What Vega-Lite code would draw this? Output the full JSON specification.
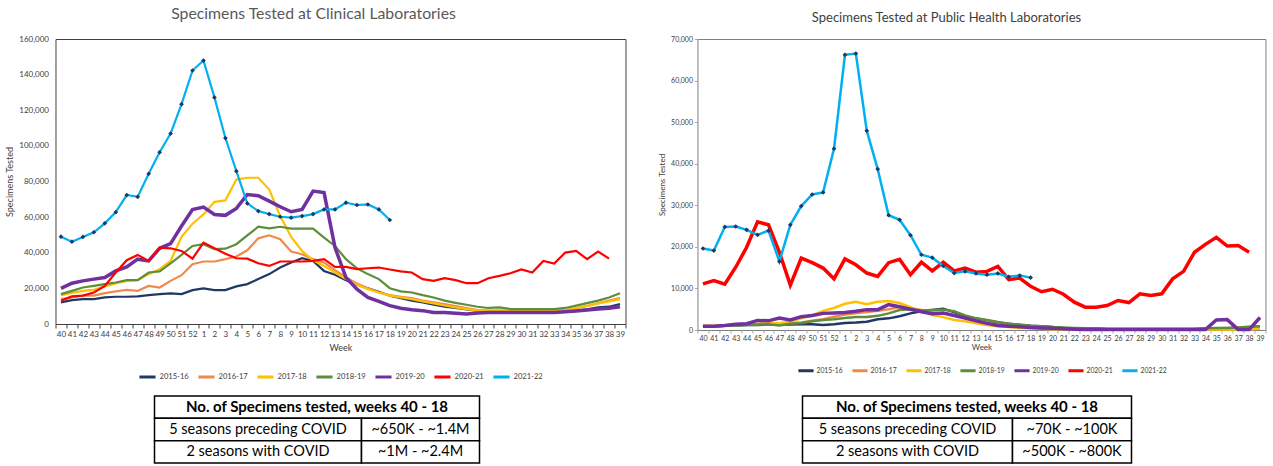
{
"$schema":"https://vega.github.io/schema/vega-lite/v6.json",
"config":{"font":"Lato","view":{"stroke":null},"axis":{"grid":false,"labelColor":"#404040","titleColor":"#404040","titleFontWeight":"normal","labelFont":"Lato","titleFont":"Lato"},"legend":{"layout":{"bottom":{"anchor":"middle"}}}},
"datasets":{
"clin":[
{"s":"2015-16","w":40,"v":12100},{"s":"2015-16","w":41,"v":13400},{"s":"2015-16","w":42,"v":14000},{"s":"2015-16","w":43,"v":14000},{"s":"2015-16","w":44,"v":14900},{"s":"2015-16","w":45,"v":15300},{"s":"2015-16","w":46,"v":15300},{"s":"2015-16","w":47,"v":15500},{"s":"2015-16","w":48,"v":16200},{"s":"2015-16","w":49,"v":16800},{"s":"2015-16","w":50,"v":17200},{"s":"2015-16","w":51,"v":16800},{"s":"2015-16","w":52,"v":19000},{"s":"2015-16","w":1,"v":20000},{"s":"2015-16","w":2,"v":19000},{"s":"2015-16","w":3,"v":19000},{"s":"2015-16","w":4,"v":21100},{"s":"2015-16","w":5,"v":22400},{"s":"2015-16","w":6,"v":25200},{"s":"2015-16","w":7,"v":28000},{"s":"2015-16","w":8,"v":31700},{"s":"2015-16","w":9,"v":34500},{"s":"2015-16","w":10,"v":36900},{"s":"2015-16","w":11,"v":35400},{"s":"2015-16","w":12,"v":29800},{"s":"2015-16","w":13,"v":27600},{"s":"2015-16","w":14,"v":24600},{"s":"2015-16","w":15,"v":22000},{"s":"2015-16","w":16,"v":20100},{"s":"2015-16","w":17,"v":18100},{"s":"2015-16","w":18,"v":15900},{"s":"2015-16","w":19,"v":14500},{"s":"2015-16","w":20,"v":13100},{"s":"2015-16","w":21,"v":12100},{"s":"2015-16","w":22,"v":10800},{"s":"2015-16","w":23,"v":9700},{"s":"2015-16","w":24,"v":9000},{"s":"2015-16","w":25,"v":8200},{"s":"2015-16","w":26,"v":7500},{"s":"2015-16","w":27,"v":7100},{"s":"2015-16","w":28,"v":7100},{"s":"2015-16","w":29,"v":7100},{"s":"2015-16","w":30,"v":7100},{"s":"2015-16","w":31,"v":7100},{"s":"2015-16","w":32,"v":7100},{"s":"2015-16","w":33,"v":7100},{"s":"2015-16","w":34,"v":7100},{"s":"2015-16","w":35,"v":7500},{"s":"2015-16","w":36,"v":8200},{"s":"2015-16","w":37,"v":9300},{"s":"2015-16","w":38,"v":9700},{"s":"2015-16","w":39,"v":11200},
{"s":"2016-17","w":40,"v":14000},{"s":"2016-17","w":41,"v":14900},{"s":"2016-17","w":42,"v":15900},{"s":"2016-17","w":43,"v":15900},{"s":"2016-17","w":44,"v":17300},{"s":"2016-17","w":45,"v":18300},{"s":"2016-17","w":46,"v":19200},{"s":"2016-17","w":47,"v":18600},{"s":"2016-17","w":48,"v":21400},{"s":"2016-17","w":49,"v":20500},{"s":"2016-17","w":50,"v":24200},{"s":"2016-17","w":51,"v":27400},{"s":"2016-17","w":52,"v":33600},{"s":"2016-17","w":1,"v":35100},{"s":"2016-17","w":2,"v":35100},{"s":"2016-17","w":3,"v":36400},{"s":"2016-17","w":4,"v":37900},{"s":"2016-17","w":5,"v":41400},{"s":"2016-17","w":6,"v":48100},{"s":"2016-17","w":7,"v":49800},{"s":"2016-17","w":8,"v":47600},{"s":"2016-17","w":9,"v":40700},{"s":"2016-17","w":10,"v":39200},{"s":"2016-17","w":11,"v":36400},{"s":"2016-17","w":12,"v":34500},{"s":"2016-17","w":13,"v":30200},{"s":"2016-17","w":14,"v":26100},{"s":"2016-17","w":15,"v":22800},{"s":"2016-17","w":16,"v":20100},{"s":"2016-17","w":17,"v":17700},{"s":"2016-17","w":18,"v":16200},{"s":"2016-17","w":19,"v":15300},{"s":"2016-17","w":20,"v":14500},{"s":"2016-17","w":21,"v":13100},{"s":"2016-17","w":22,"v":12100},{"s":"2016-17","w":23,"v":11200},{"s":"2016-17","w":24,"v":10100},{"s":"2016-17","w":25,"v":9000},{"s":"2016-17","w":26,"v":7800},{"s":"2016-17","w":27,"v":7500},{"s":"2016-17","w":28,"v":7500},{"s":"2016-17","w":29,"v":7500},{"s":"2016-17","w":30,"v":7500},{"s":"2016-17","w":31,"v":7500},{"s":"2016-17","w":32,"v":7500},{"s":"2016-17","w":33,"v":7500},{"s":"2016-17","w":34,"v":7800},{"s":"2016-17","w":35,"v":8800},{"s":"2016-17","w":36,"v":10100},{"s":"2016-17","w":37,"v":11600},{"s":"2016-17","w":38,"v":13100},{"s":"2016-17","w":39,"v":14500},
{"s":"2017-18","w":40,"v":16200},{"s":"2017-18","w":41,"v":17500},{"s":"2017-18","w":42,"v":18600},{"s":"2017-18","w":43,"v":19200},{"s":"2017-18","w":44,"v":21100},{"s":"2017-18","w":45,"v":22800},{"s":"2017-18","w":46,"v":24200},{"s":"2017-18","w":47,"v":24600},{"s":"2017-18","w":48,"v":28000},{"s":"2017-18","w":49,"v":30800},{"s":"2017-18","w":50,"v":35400},{"s":"2017-18","w":51,"v":48900},{"s":"2017-18","w":52,"v":56300},{"s":"2017-18","w":1,"v":61500},{"s":"2017-18","w":2,"v":68600},{"s":"2017-18","w":3,"v":69400},{"s":"2017-18","w":4,"v":81100},{"s":"2017-18","w":5,"v":82100},{"s":"2017-18","w":6,"v":82100},{"s":"2017-18","w":7,"v":75500},{"s":"2017-18","w":8,"v":60600},{"s":"2017-18","w":9,"v":48900},{"s":"2017-18","w":10,"v":41000},{"s":"2017-18","w":11,"v":35800},{"s":"2017-18","w":12,"v":32600},{"s":"2017-18","w":13,"v":28900},{"s":"2017-18","w":14,"v":25200},{"s":"2017-18","w":15,"v":22000},{"s":"2017-18","w":16,"v":19600},{"s":"2017-18","w":17,"v":17700},{"s":"2017-18","w":18,"v":15900},{"s":"2017-18","w":19,"v":14900},{"s":"2017-18","w":20,"v":14000},{"s":"2017-18","w":21,"v":12700},{"s":"2017-18","w":22,"v":11600},{"s":"2017-18","w":23,"v":10400},{"s":"2017-18","w":24,"v":9300},{"s":"2017-18","w":25,"v":8400},{"s":"2017-18","w":26,"v":7500},{"s":"2017-18","w":27,"v":7500},{"s":"2017-18","w":28,"v":7500},{"s":"2017-18","w":29,"v":7500},{"s":"2017-18","w":30,"v":7500},{"s":"2017-18","w":31,"v":7500},{"s":"2017-18","w":32,"v":7500},{"s":"2017-18","w":33,"v":7500},{"s":"2017-18","w":34,"v":7800},{"s":"2017-18","w":35,"v":9000},{"s":"2017-18","w":36,"v":10100},{"s":"2017-18","w":37,"v":11600},{"s":"2017-18","w":38,"v":12700},{"s":"2017-18","w":39,"v":14000},
{"s":"2018-19","w":40,"v":16800},{"s":"2018-19","w":41,"v":18600},{"s":"2018-19","w":42,"v":20500},{"s":"2018-19","w":43,"v":21400},{"s":"2018-19","w":44,"v":22400},{"s":"2018-19","w":45,"v":23300},{"s":"2018-19","w":46,"v":24600},{"s":"2018-19","w":47,"v":24600},{"s":"2018-19","w":48,"v":28900},{"s":"2018-19","w":49,"v":29500},{"s":"2018-19","w":50,"v":34100},{"s":"2018-19","w":51,"v":38800},{"s":"2018-19","w":52,"v":43800},{"s":"2018-19","w":1,"v":44800},{"s":"2018-19","w":2,"v":42000},{"s":"2018-19","w":3,"v":42300},{"s":"2018-19","w":4,"v":44800},{"s":"2018-19","w":5,"v":49800},{"s":"2018-19","w":6,"v":54600},{"s":"2018-19","w":7,"v":53700},{"s":"2018-19","w":8,"v":54600},{"s":"2018-19","w":9,"v":53500},{"s":"2018-19","w":10,"v":53500},{"s":"2018-19","w":11,"v":53500},{"s":"2018-19","w":12,"v":48500},{"s":"2018-19","w":13,"v":43800},{"s":"2018-19","w":14,"v":36400},{"s":"2018-19","w":15,"v":31300},{"s":"2018-19","w":16,"v":28000},{"s":"2018-19","w":17,"v":25200},{"s":"2018-19","w":18,"v":20100},{"s":"2018-19","w":19,"v":18300},{"s":"2018-19","w":20,"v":17700},{"s":"2018-19","w":21,"v":16200},{"s":"2018-19","w":22,"v":14900},{"s":"2018-19","w":23,"v":13100},{"s":"2018-19","w":24,"v":11900},{"s":"2018-19","w":25,"v":10800},{"s":"2018-19","w":26,"v":9700},{"s":"2018-19","w":27,"v":9000},{"s":"2018-19","w":28,"v":9300},{"s":"2018-19","w":29,"v":8400},{"s":"2018-19","w":30,"v":8400},{"s":"2018-19","w":31,"v":8400},{"s":"2018-19","w":32,"v":8400},{"s":"2018-19","w":33,"v":8400},{"s":"2018-19","w":34,"v":9000},{"s":"2018-19","w":35,"v":10300},{"s":"2018-19","w":36,"v":11700},{"s":"2018-19","w":37,"v":13100},{"s":"2018-19","w":38,"v":14900},{"s":"2018-19","w":39,"v":17300},
{"s":"2019-20","w":40,"v":20000},{"s":"2019-20","w":41,"v":22900},{"s":"2019-20","w":42,"v":24200},{"s":"2019-20","w":43,"v":25200},{"s":"2019-20","w":44,"v":26100},{"s":"2019-20","w":45,"v":29800},{"s":"2019-20","w":46,"v":32100},{"s":"2019-20","w":47,"v":36400},{"s":"2019-20","w":48,"v":35400},{"s":"2019-20","w":49,"v":42500},{"s":"2019-20","w":50,"v":45100},{"s":"2019-20","w":51,"v":55000},{"s":"2019-20","w":52,"v":64300},{"s":"2019-20","w":1,"v":65600},{"s":"2019-20","w":2,"v":61500},{"s":"2019-20","w":3,"v":61000},{"s":"2019-20","w":4,"v":64900},{"s":"2019-20","w":5,"v":72700},{"s":"2019-20","w":6,"v":72000},{"s":"2019-20","w":7,"v":69000},{"s":"2019-20","w":8,"v":65800},{"s":"2019-20","w":9,"v":63000},{"s":"2019-20","w":10,"v":64300},{"s":"2019-20","w":11,"v":74600},{"s":"2019-20","w":12,"v":73800},{"s":"2019-20","w":13,"v":42900},{"s":"2019-20","w":14,"v":26100},{"s":"2019-20","w":15,"v":19600},{"s":"2019-20","w":16,"v":14900},{"s":"2019-20","w":17,"v":12700},{"s":"2019-20","w":18,"v":10300},{"s":"2019-20","w":19,"v":8800},{"s":"2019-20","w":20,"v":8000},{"s":"2019-20","w":21,"v":7500},{"s":"2019-20","w":22,"v":6500},{"s":"2019-20","w":23,"v":6500},{"s":"2019-20","w":24,"v":6000},{"s":"2019-20","w":25,"v":5600},{"s":"2019-20","w":26,"v":6200},{"s":"2019-20","w":27,"v":6500},{"s":"2019-20","w":28,"v":6500},{"s":"2019-20","w":29,"v":6500},{"s":"2019-20","w":30,"v":6500},{"s":"2019-20","w":31,"v":6500},{"s":"2019-20","w":32,"v":6500},{"s":"2019-20","w":33,"v":6500},{"s":"2019-20","w":34,"v":6900},{"s":"2019-20","w":35,"v":7300},{"s":"2019-20","w":36,"v":7800},{"s":"2019-20","w":37,"v":8400},{"s":"2019-20","w":38,"v":8800},{"s":"2019-20","w":39,"v":9700},
{"s":"2020-21","w":40,"v":13100},{"s":"2020-21","w":41,"v":15500},{"s":"2020-21","w":42,"v":15900},{"s":"2020-21","w":43,"v":17700},{"s":"2020-21","w":44,"v":21400},{"s":"2020-21","w":45,"v":28900},{"s":"2020-21","w":46,"v":35800},{"s":"2020-21","w":47,"v":38800},{"s":"2020-21","w":48,"v":35400},{"s":"2020-21","w":49,"v":42900},{"s":"2020-21","w":50,"v":42500},{"s":"2020-21","w":51,"v":41000},{"s":"2020-21","w":52,"v":36700},{"s":"2020-21","w":1,"v":45700},{"s":"2020-21","w":2,"v":42500},{"s":"2020-21","w":3,"v":39500},{"s":"2020-21","w":4,"v":36900},{"s":"2020-21","w":5,"v":36700},{"s":"2020-21","w":6,"v":34100},{"s":"2020-21","w":7,"v":32600},{"s":"2020-21","w":8,"v":35100},{"s":"2020-21","w":9,"v":35100},{"s":"2020-21","w":10,"v":35100},{"s":"2020-21","w":11,"v":35400},{"s":"2020-21","w":12,"v":36400},{"s":"2020-21","w":13,"v":32100},{"s":"2020-21","w":14,"v":32100},{"s":"2020-21","w":15,"v":30800},{"s":"2020-21","w":16,"v":31300},{"s":"2020-21","w":17,"v":31700},{"s":"2020-21","w":18,"v":30600},{"s":"2020-21","w":19,"v":29500},{"s":"2020-21","w":20,"v":28900},{"s":"2020-21","w":21,"v":25200},{"s":"2020-21","w":22,"v":24200},{"s":"2020-21","w":23,"v":25700},{"s":"2020-21","w":24,"v":24600},{"s":"2020-21","w":25,"v":22900},{"s":"2020-21","w":26,"v":22900},{"s":"2020-21","w":27,"v":25700},{"s":"2020-21","w":28,"v":27000},{"s":"2020-21","w":29,"v":28500},{"s":"2020-21","w":30,"v":30600},{"s":"2020-21","w":31,"v":28900},{"s":"2020-21","w":32,"v":35400},{"s":"2020-21","w":33,"v":33900},{"s":"2020-21","w":34,"v":40100},{"s":"2020-21","w":35,"v":41000},{"s":"2020-21","w":36,"v":36400},{"s":"2020-21","w":37,"v":40700},{"s":"2020-21","w":38,"v":36700},
{"s":"2021-22","w":40,"v":49000},{"s":"2021-22","w":41,"v":46200},{"s":"2021-22","w":42,"v":48900},{"s":"2021-22","w":43,"v":51500},{"s":"2021-22","w":44,"v":56500},{"s":"2021-22","w":45,"v":62800},{"s":"2021-22","w":46,"v":72400},{"s":"2021-22","w":47,"v":71400},{"s":"2021-22","w":48,"v":84300},{"s":"2021-22","w":49,"v":96400},{"s":"2021-22","w":50,"v":106900},{"s":"2021-22","w":51,"v":123400},{"s":"2021-22","w":52,"v":142300},{"s":"2021-22","w":1,"v":147900},{"s":"2021-22","w":2,"v":127200},{"s":"2021-22","w":3,"v":104400},{"s":"2021-22","w":4,"v":85800},{"s":"2021-22","w":5,"v":67700},{"s":"2021-22","w":6,"v":63400},{"s":"2021-22","w":7,"v":61700},{"s":"2021-22","w":8,"v":60200},{"s":"2021-22","w":9,"v":59700},{"s":"2021-22","w":10,"v":60600},{"s":"2021-22","w":11,"v":61700},{"s":"2021-22","w":12,"v":64300},{"s":"2021-22","w":13,"v":64300},{"s":"2021-22","w":14,"v":68100},{"s":"2021-22","w":15,"v":66800},{"s":"2021-22","w":16,"v":67100},{"s":"2021-22","w":17,"v":64300},{"s":"2021-22","w":18,"v":58400}
],
"pub":[
{"s":"2015-16","w":40,"v":800},{"s":"2015-16","w":41,"v":900},{"s":"2015-16","w":42,"v":1000},{"s":"2015-16","w":43,"v":1100},{"s":"2015-16","w":44,"v":1200},{"s":"2015-16","w":45,"v":1200},{"s":"2015-16","w":46,"v":1300},{"s":"2015-16","w":47,"v":1300},{"s":"2015-16","w":48,"v":1300},{"s":"2015-16","w":49,"v":1400},{"s":"2015-16","w":50,"v":1400},{"s":"2015-16","w":51,"v":1200},{"s":"2015-16","w":52,"v":1400},{"s":"2015-16","w":1,"v":1700},{"s":"2015-16","w":2,"v":1800},{"s":"2015-16","w":3,"v":2000},{"s":"2015-16","w":4,"v":2600},{"s":"2015-16","w":5,"v":2800},{"s":"2015-16","w":6,"v":3300},{"s":"2015-16","w":7,"v":4000},{"s":"2015-16","w":8,"v":4500},{"s":"2015-16","w":9,"v":4800},{"s":"2015-16","w":10,"v":5100},{"s":"2015-16","w":11,"v":4300},{"s":"2015-16","w":12,"v":3400},{"s":"2015-16","w":13,"v":2800},{"s":"2015-16","w":14,"v":2300},{"s":"2015-16","w":15,"v":1800},{"s":"2015-16","w":16,"v":1500},{"s":"2015-16","w":17,"v":1200},{"s":"2015-16","w":18,"v":1000},{"s":"2015-16","w":19,"v":900},{"s":"2015-16","w":20,"v":700},{"s":"2015-16","w":21,"v":500},{"s":"2015-16","w":22,"v":400},{"s":"2015-16","w":23,"v":300},{"s":"2015-16","w":24,"v":300},{"s":"2015-16","w":25,"v":200},{"s":"2015-16","w":26,"v":200},{"s":"2015-16","w":27,"v":200},{"s":"2015-16","w":28,"v":200},{"s":"2015-16","w":29,"v":200},{"s":"2015-16","w":30,"v":200},{"s":"2015-16","w":31,"v":200},{"s":"2015-16","w":32,"v":200},{"s":"2015-16","w":33,"v":200},{"s":"2015-16","w":34,"v":300},{"s":"2015-16","w":35,"v":400},{"s":"2015-16","w":36,"v":400},{"s":"2015-16","w":37,"v":500},{"s":"2015-16","w":38,"v":600},{"s":"2015-16","w":39,"v":700},
{"s":"2016-17","w":40,"v":800},{"s":"2016-17","w":41,"v":900},{"s":"2016-17","w":42,"v":1000},{"s":"2016-17","w":43,"v":1200},{"s":"2016-17","w":44,"v":1300},{"s":"2016-17","w":45,"v":1400},{"s":"2016-17","w":46,"v":1500},{"s":"2016-17","w":47,"v":1400},{"s":"2016-17","w":48,"v":1600},{"s":"2016-17","w":49,"v":1800},{"s":"2016-17","w":50,"v":2200},{"s":"2016-17","w":51,"v":2600},{"s":"2016-17","w":52,"v":3200},{"s":"2016-17","w":1,"v":3700},{"s":"2016-17","w":2,"v":4000},{"s":"2016-17","w":3,"v":4300},{"s":"2016-17","w":4,"v":4600},{"s":"2016-17","w":5,"v":5000},{"s":"2016-17","w":6,"v":5500},{"s":"2016-17","w":7,"v":5200},{"s":"2016-17","w":8,"v":4800},{"s":"2016-17","w":9,"v":4200},{"s":"2016-17","w":10,"v":4000},{"s":"2016-17","w":11,"v":3600},{"s":"2016-17","w":12,"v":3000},{"s":"2016-17","w":13,"v":2400},{"s":"2016-17","w":14,"v":1900},{"s":"2016-17","w":15,"v":1400},{"s":"2016-17","w":16,"v":1100},{"s":"2016-17","w":17,"v":900},{"s":"2016-17","w":18,"v":800},{"s":"2016-17","w":19,"v":600},{"s":"2016-17","w":20,"v":500},{"s":"2016-17","w":21,"v":400},{"s":"2016-17","w":22,"v":400},{"s":"2016-17","w":23,"v":300},{"s":"2016-17","w":24,"v":300},{"s":"2016-17","w":25,"v":200},{"s":"2016-17","w":26,"v":200},{"s":"2016-17","w":27,"v":200},{"s":"2016-17","w":28,"v":200},{"s":"2016-17","w":29,"v":200},{"s":"2016-17","w":30,"v":200},{"s":"2016-17","w":31,"v":200},{"s":"2016-17","w":32,"v":200},{"s":"2016-17","w":33,"v":200},{"s":"2016-17","w":34,"v":300},{"s":"2016-17","w":35,"v":400},{"s":"2016-17","w":36,"v":500},{"s":"2016-17","w":37,"v":600},{"s":"2016-17","w":38,"v":700},{"s":"2016-17","w":39,"v":800},
{"s":"2017-18","w":40,"v":1000},{"s":"2017-18","w":41,"v":1000},{"s":"2017-18","w":42,"v":1100},{"s":"2017-18","w":43,"v":1300},{"s":"2017-18","w":44,"v":1400},{"s":"2017-18","w":45,"v":1500},{"s":"2017-18","w":46,"v":1600},{"s":"2017-18","w":47,"v":1600},{"s":"2017-18","w":48,"v":2000},{"s":"2017-18","w":49,"v":2800},{"s":"2017-18","w":50,"v":3500},{"s":"2017-18","w":51,"v":4600},{"s":"2017-18","w":52,"v":5300},{"s":"2017-18","w":1,"v":6300},{"s":"2017-18","w":2,"v":6800},{"s":"2017-18","w":3,"v":6200},{"s":"2017-18","w":4,"v":6800},{"s":"2017-18","w":5,"v":7000},{"s":"2017-18","w":6,"v":6500},{"s":"2017-18","w":7,"v":5500},{"s":"2017-18","w":8,"v":4600},{"s":"2017-18","w":9,"v":3600},{"s":"2017-18","w":10,"v":3100},{"s":"2017-18","w":11,"v":2400},{"s":"2017-18","w":12,"v":2100},{"s":"2017-18","w":13,"v":1600},{"s":"2017-18","w":14,"v":1200},{"s":"2017-18","w":15,"v":900},{"s":"2017-18","w":16,"v":700},{"s":"2017-18","w":17,"v":500},{"s":"2017-18","w":18,"v":400},{"s":"2017-18","w":19,"v":300},{"s":"2017-18","w":20,"v":200},{"s":"2017-18","w":21,"v":100},{"s":"2017-18","w":22,"v":100},{"s":"2017-18","w":23,"v":100},{"s":"2017-18","w":24,"v":100},{"s":"2017-18","w":25,"v":100},{"s":"2017-18","w":26,"v":100},{"s":"2017-18","w":27,"v":100},{"s":"2017-18","w":28,"v":100},{"s":"2017-18","w":29,"v":100},{"s":"2017-18","w":30,"v":100},{"s":"2017-18","w":31,"v":100},{"s":"2017-18","w":32,"v":100},{"s":"2017-18","w":33,"v":100},{"s":"2017-18","w":34,"v":100},{"s":"2017-18","w":35,"v":100},{"s":"2017-18","w":36,"v":100},{"s":"2017-18","w":37,"v":100},{"s":"2017-18","w":38,"v":200},{"s":"2017-18","w":39,"v":300},
{"s":"2018-19","w":40,"v":800},{"s":"2018-19","w":41,"v":900},{"s":"2018-19","w":42,"v":1000},{"s":"2018-19","w":43,"v":1100},{"s":"2018-19","w":44,"v":1200},{"s":"2018-19","w":45,"v":1300},{"s":"2018-19","w":46,"v":1400},{"s":"2018-19","w":47,"v":1100},{"s":"2018-19","w":48,"v":1500},{"s":"2018-19","w":49,"v":1700},{"s":"2018-19","w":50,"v":2100},{"s":"2018-19","w":51,"v":2400},{"s":"2018-19","w":52,"v":2600},{"s":"2018-19","w":1,"v":2900},{"s":"2018-19","w":2,"v":3100},{"s":"2018-19","w":3,"v":3100},{"s":"2018-19","w":4,"v":3400},{"s":"2018-19","w":5,"v":4000},{"s":"2018-19","w":6,"v":4800},{"s":"2018-19","w":7,"v":5000},{"s":"2018-19","w":8,"v":4700},{"s":"2018-19","w":9,"v":4800},{"s":"2018-19","w":10,"v":4900},{"s":"2018-19","w":11,"v":4500},{"s":"2018-19","w":12,"v":3500},{"s":"2018-19","w":13,"v":2800},{"s":"2018-19","w":14,"v":2400},{"s":"2018-19","w":15,"v":1900},{"s":"2018-19","w":16,"v":1500},{"s":"2018-19","w":17,"v":1300},{"s":"2018-19","w":18,"v":1000},{"s":"2018-19","w":19,"v":900},{"s":"2018-19","w":20,"v":700},{"s":"2018-19","w":21,"v":600},{"s":"2018-19","w":22,"v":500},{"s":"2018-19","w":23,"v":400},{"s":"2018-19","w":24,"v":400},{"s":"2018-19","w":25,"v":300},{"s":"2018-19","w":26,"v":300},{"s":"2018-19","w":27,"v":300},{"s":"2018-19","w":28,"v":300},{"s":"2018-19","w":29,"v":300},{"s":"2018-19","w":30,"v":300},{"s":"2018-19","w":31,"v":300},{"s":"2018-19","w":32,"v":300},{"s":"2018-19","w":33,"v":300},{"s":"2018-19","w":34,"v":400},{"s":"2018-19","w":35,"v":500},{"s":"2018-19","w":36,"v":500},{"s":"2018-19","w":37,"v":600},{"s":"2018-19","w":38,"v":800},{"s":"2018-19","w":39,"v":900},
{"s":"2019-20","w":40,"v":900},{"s":"2019-20","w":41,"v":900},{"s":"2019-20","w":42,"v":1100},{"s":"2019-20","w":43,"v":1400},{"s":"2019-20","w":44,"v":1500},{"s":"2019-20","w":45,"v":2300},{"s":"2019-20","w":46,"v":2200},{"s":"2019-20","w":47,"v":2900},{"s":"2019-20","w":48,"v":2400},{"s":"2019-20","w":49,"v":3200},{"s":"2019-20","w":50,"v":3500},{"s":"2019-20","w":51,"v":4000},{"s":"2019-20","w":52,"v":4100},{"s":"2019-20","w":1,"v":4200},{"s":"2019-20","w":2,"v":4500},{"s":"2019-20","w":3,"v":4900},{"s":"2019-20","w":4,"v":4900},{"s":"2019-20","w":5,"v":6100},{"s":"2019-20","w":6,"v":5600},{"s":"2019-20","w":7,"v":5000},{"s":"2019-20","w":8,"v":4400},{"s":"2019-20","w":9,"v":3900},{"s":"2019-20","w":10,"v":4100},{"s":"2019-20","w":11,"v":3500},{"s":"2019-20","w":12,"v":2900},{"s":"2019-20","w":13,"v":2200},{"s":"2019-20","w":14,"v":1600},{"s":"2019-20","w":15,"v":1100},{"s":"2019-20","w":16,"v":900},{"s":"2019-20","w":17,"v":800},{"s":"2019-20","w":18,"v":600},{"s":"2019-20","w":19,"v":500},{"s":"2019-20","w":20,"v":400},{"s":"2019-20","w":21,"v":300},{"s":"2019-20","w":22,"v":200},{"s":"2019-20","w":23,"v":100},{"s":"2019-20","w":24,"v":100},{"s":"2019-20","w":25,"v":100},{"s":"2019-20","w":26,"v":100},{"s":"2019-20","w":27,"v":100},{"s":"2019-20","w":28,"v":100},{"s":"2019-20","w":29,"v":100},{"s":"2019-20","w":30,"v":100},{"s":"2019-20","w":31,"v":100},{"s":"2019-20","w":32,"v":100},{"s":"2019-20","w":33,"v":100},{"s":"2019-20","w":34,"v":100},{"s":"2019-20","w":35,"v":2400},{"s":"2019-20","w":36,"v":2500},{"s":"2019-20","w":37,"v":100},{"s":"2019-20","w":38,"v":100},{"s":"2019-20","w":39,"v":3000},
{"s":"2020-21","w":40,"v":11100},{"s":"2020-21","w":41,"v":11900},{"s":"2020-21","w":42,"v":11000},{"s":"2020-21","w":43,"v":15100},{"s":"2020-21","w":44,"v":19900},{"s":"2020-21","w":45,"v":26000},{"s":"2020-21","w":46,"v":25300},{"s":"2020-21","w":47,"v":18700},{"s":"2020-21","w":48,"v":10800},{"s":"2020-21","w":49,"v":17300},{"s":"2020-21","w":50,"v":16200},{"s":"2020-21","w":51,"v":14900},{"s":"2020-21","w":52,"v":12300},{"s":"2020-21","w":1,"v":17100},{"s":"2020-21","w":2,"v":15700},{"s":"2020-21","w":3,"v":13700},{"s":"2020-21","w":4,"v":12900},{"s":"2020-21","w":5,"v":16200},{"s":"2020-21","w":6,"v":17000},{"s":"2020-21","w":7,"v":13300},{"s":"2020-21","w":8,"v":16300},{"s":"2020-21","w":9,"v":14200},{"s":"2020-21","w":10,"v":16300},{"s":"2020-21","w":11,"v":14200},{"s":"2020-21","w":12,"v":14900},{"s":"2020-21","w":13,"v":13900},{"s":"2020-21","w":14,"v":14100},{"s":"2020-21","w":15,"v":15300},{"s":"2020-21","w":16,"v":12100},{"s":"2020-21","w":17,"v":12500},{"s":"2020-21","w":18,"v":10500},{"s":"2020-21","w":19,"v":9200},{"s":"2020-21","w":20,"v":9800},{"s":"2020-21","w":21,"v":8600},{"s":"2020-21","w":22,"v":6700},{"s":"2020-21","w":23,"v":5500},{"s":"2020-21","w":24,"v":5500},{"s":"2020-21","w":25,"v":5900},{"s":"2020-21","w":26,"v":7100},{"s":"2020-21","w":27,"v":6600},{"s":"2020-21","w":28,"v":8700},{"s":"2020-21","w":29,"v":8300},{"s":"2020-21","w":30,"v":8700},{"s":"2020-21","w":31,"v":12300},{"s":"2020-21","w":32,"v":14100},{"s":"2020-21","w":33,"v":18700},{"s":"2020-21","w":34,"v":20600},{"s":"2020-21","w":35,"v":22300},{"s":"2020-21","w":36,"v":20200},{"s":"2020-21","w":37,"v":20300},{"s":"2020-21","w":38,"v":18700},
{"s":"2021-22","w":40,"v":19600},{"s":"2021-22","w":41,"v":19100},{"s":"2021-22","w":42,"v":24800},{"s":"2021-22","w":43,"v":24900},{"s":"2021-22","w":44,"v":24100},{"s":"2021-22","w":45,"v":22900},{"s":"2021-22","w":46,"v":23900},{"s":"2021-22","w":47,"v":16500},{"s":"2021-22","w":48,"v":25300},{"s":"2021-22","w":49,"v":29800},{"s":"2021-22","w":50,"v":32600},{"s":"2021-22","w":51,"v":33100},{"s":"2021-22","w":52,"v":43600},{"s":"2021-22","w":1,"v":66200},{"s":"2021-22","w":2,"v":66500},{"s":"2021-22","w":3,"v":47900},{"s":"2021-22","w":4,"v":38700},{"s":"2021-22","w":5,"v":27600},{"s":"2021-22","w":6,"v":26500},{"s":"2021-22","w":7,"v":22800},{"s":"2021-22","w":8,"v":18100},{"s":"2021-22","w":9,"v":17400},{"s":"2021-22","w":10,"v":15400},{"s":"2021-22","w":11,"v":13700},{"s":"2021-22","w":12,"v":14100},{"s":"2021-22","w":13,"v":13600},{"s":"2021-22","w":14,"v":13300},{"s":"2021-22","w":15,"v":13600},{"s":"2021-22","w":16,"v":12800},{"s":"2021-22","w":17,"v":13100},{"s":"2021-22","w":18,"v":12600}
]
},
"spacing":30,
"resolve":{"scale":{"color":"independent"},"legend":{"color":"independent"}},
"hconcat":[
{"vconcat":[
 {"width":570,"height":285,
  "view":{"stroke":"#404040","strokeWidth":1},
  "title":{"text":"Specimens Tested at Clinical Laboratories","fontSize":15.8,"font":"Lato","fontWeight":"normal","color":"#595959","offset":13,"dx":-27,"dy":1},
  "data":{"name":"clin"},
  "encoding":{
   "x":{"field":"w","type":"ordinal","scale":{"type":"band","domain":[40,41,42,43,44,45,46,47,48,49,50,51,52,1,2,3,4,5,6,7,8,9,10,11,12,13,14,15,16,17,18,19,20,21,22,23,24,25,26,27,28,29,30,31,32,33,34,35,36,37,38,39],"paddingInner":0,"paddingOuter":0},
        "axis":{"title":"Week","titleFontSize":9,"titlePadding":5,"labelFontSize":8,"labelAngle":0,"labelPadding":2,"tickSize":4,"tickColor":"#404040","domain":false,"labelOverlap":false,"tickBand":"extent"}},
   "y":{"field":"v","type":"quantitative","scale":{"domain":[0,160000]},
        "axis":{"title":"Specimens Tested","titleFontSize":9,"format":",d","labelFontSize":8,"values":[0,20000,40000,60000,80000,100000,120000,140000,160000],"tickSize":0,"labelPadding":7,"domain":false}}
  },
  "layer":[
   {"mark":{"type":"line"},
    "encoding":{
     "color":{"field":"s","type":"nominal","scale":{"domain":["2015-16","2016-17","2017-18","2018-19","2019-20","2020-21","2021-22"],"range":["#1F3864","#F0894B","#FFC000","#5E8E3A","#7030A0","#FF0000","#00B0F0"]},
      "legend":{"title":null,"orient":"bottom","direction":"horizontal","symbolType":"stroke","symbolSize":260,"symbolStrokeWidth":3,"labelFontSize":7.6,"labelColor":"#404040","labelOffset":2,"columnPadding":2,"offset":15}},
     "strokeWidth":{"condition":{"test":"datum.s==='2019-20'","value":3.5},"value":2.2}}},
   {"transform":[{"filter":"datum.s==='2021-22'"}],
    "mark":{"type":"point","shape":"diamond","filled":true,"size":22,"color":"#1F3864","opacity":1}}
  ]
 },
 {"width":374,"height":67,
  "view":{"stroke":null},
  "data":{"values":[
   {"r":1,"c0":0,"c1":2,"t":"No. of Specimens tested, weeks 40 - 18"},
   {"r":2,"c0":0,"c1":1,"t":"5 seasons preceding COVID"},
   {"r":2,"c0":1,"c1":2,"t":"~650K - ~1.4M"},
   {"r":3,"c0":0,"c1":1,"t":"2 seasons with COVID"},
   {"r":3,"c0":1,"c1":2,"t":"~1M - ~2.4M"}
  ]},
  "transform":[{"calculate":"(datum.c0+datum.c1)/2","as":"m"}],
  "encoding":{"y":{"field":"r","type":"ordinal","axis":null,"scale":{"paddingInner":0,"paddingOuter":0}}},
  "resolve":{"scale":{"x":"independent"}},
  "layer":[
   {"mark":{"type":"rect","fill":"white","stroke":"black","strokeWidth":1.5},
    "encoding":{"x":{"field":"c0","type":"quantitative","axis":null,"scale":{"domain":[0,1,2],"range":[0,207,325]}},"x2":{"field":"c1"}}},
   {"transform":[{"filter":"datum.r==1"}],
    "mark":{"type":"text","fontWeight":"bold","fontSize":15,"font":"Lato","color":"black"},
    "encoding":{"text":{"field":"t"},"x":{"field":"m","type":"quantitative","axis":null,"scale":{"domain":[0,2],"range":[0,325]}}}},
   {"transform":[{"filter":"datum.r>1"}],
    "mark":{"type":"text","fontSize":14.5,"font":"Lato","color":"black"},
    "encoding":{"text":{"field":"t"},"x":{"field":"m","type":"quantitative","axis":null,"scale":{"domain":[0,1,2],"range":[0,207,325]}}}}
  ]
 }
],"center":true,"spacing":11,"resolve":{"scale":{"color":"independent"},"legend":{"color":"independent"}}},
{"vconcat":[
 {"width":568,"height":291,
  "view":{"stroke":"#7F7F7F","strokeWidth":1},
  "title":{"text":"Specimens Tested at Public Health Laboratories","fontSize":13,"font":"Lato","fontWeight":"normal","color":"#404040","offset":15,"dx":-35,"dy":5},
  "data":{"name":"pub"},
  "encoding":{
   "x":{"field":"w","type":"ordinal","scale":{"type":"band","domain":[40,41,42,43,44,45,46,47,48,49,50,51,52,1,2,3,4,5,6,7,8,9,10,11,12,13,14,15,16,17,18,19,20,21,22,23,24,25,26,27,28,29,30,31,32,33,34,35,36,37,38,39],"paddingInner":0,"paddingOuter":0},
        "axis":{"title":"Week","titleFontSize":8,"titlePadding":2,"labelFontSize":7,"labelAngle":0,"labelPadding":1,"tickSize":3,"tickColor":"#A6A6A6","domain":false,"labelOverlap":false,"tickBand":"extent"}},
   "y":{"field":"v","type":"quantitative","scale":{"domain":[0,70000]},
        "axis":{"title":"Specimens Tested","titleFontSize":8,"format":",d","labelFontSize":7,"values":[0,10000,20000,30000,40000,50000,60000,70000],"tickSize":3,"tickColor":"#A6A6A6","labelPadding":2,"domain":false}}
  },
  "layer":[
   {"mark":{"type":"line"},
    "encoding":{
     "color":{"field":"s","type":"nominal","scale":{"domain":["2015-16","2016-17","2017-18","2018-19","2019-20","2020-21","2021-22"],"range":["#1F3864","#F0894B","#FFC000","#5E8E3A","#7030A0","#FF0000","#00B0F0"]},
      "legend":{"title":null,"orient":"bottom","direction":"horizontal","symbolType":"stroke","symbolSize":230,"symbolStrokeWidth":3,"labelFontSize":6.8,"labelColor":"#404040","labelOffset":1,"columnPadding":2,"offset":10}},
     "strokeWidth":{"condition":{"test":"datum.s==='2019-20' || datum.s==='2020-21'","value":3.5},"value":2.5}}},
   {"transform":[{"filter":"datum.s==='2021-22'"}],
    "mark":{"type":"point","shape":"diamond","filled":true,"size":22,"color":"#1F3864","opacity":1}}
  ]
 },
 {"width":360,"height":67,
  "view":{"stroke":null},
  "data":{"values":[
   {"r":1,"c0":0,"c1":2,"t":"No. of Specimens tested, weeks 40 - 18"},
   {"r":2,"c0":0,"c1":1,"t":"5 seasons preceding COVID"},
   {"r":2,"c0":1,"c1":2,"t":"~70K - ~100K"},
   {"r":3,"c0":0,"c1":1,"t":"2 seasons with COVID"},
   {"r":3,"c0":1,"c1":2,"t":"~500K - ~800K"}
  ]},
  "transform":[{"calculate":"(datum.c0+datum.c1)/2","as":"m"}],
  "encoding":{"y":{"field":"r","type":"ordinal","axis":null,"scale":{"paddingInner":0,"paddingOuter":0}}},
  "resolve":{"scale":{"x":"independent"}},
  "layer":[
   {"mark":{"type":"rect","fill":"white","stroke":"black","strokeWidth":1.5},
    "encoding":{"x":{"field":"c0","type":"quantitative","axis":null,"scale":{"domain":[0,1,2],"range":[0,210,329]}},"x2":{"field":"c1"}}},
   {"transform":[{"filter":"datum.r==1"}],
    "mark":{"type":"text","fontWeight":"bold","fontSize":15,"font":"Lato","color":"black"},
    "encoding":{"text":{"field":"t"},"x":{"field":"m","type":"quantitative","axis":null,"scale":{"domain":[0,2],"range":[0,329]}}}},
   {"transform":[{"filter":"datum.r>1"}],
    "mark":{"type":"text","fontSize":14.5,"font":"Lato","color":"black"},
    "encoding":{"text":{"field":"t"},"x":{"field":"m","type":"quantitative","axis":null,"scale":{"domain":[0,1,2],"range":[0,210,329]}}}}
  ]
 }
],"center":true,"spacing":17,"resolve":{"scale":{"color":"independent"},"legend":{"color":"independent"}}}
]
}
